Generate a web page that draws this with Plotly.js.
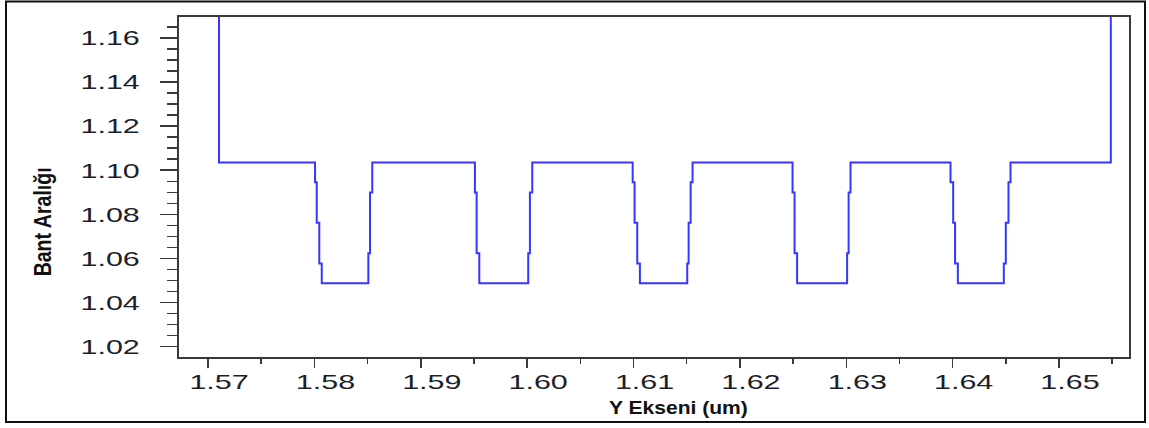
<!DOCTYPE html>
<html>
<head>
<meta charset="utf-8">
<script src="https://cdn.plot.ly/plotly-3.0.1.min.js"></script>
<style>
  html, body { margin: 0; padding: 0; background: #fff; }
  #chart { width: 1149px; height: 428px; }
</style>
</head>
<body>
<div id="chart"></div>
<script>
// Step-function breakpoints (Y Ekseni, um) and the band-gap level that starts at each breakpoint
const xEdges = [
  1.57103, 1.57103,
  1.58006, 1.58022, 1.58046, 1.58069, 1.58507, 1.58523, 1.58544,
  1.59509, 1.59525, 1.59550, 1.60010, 1.60026, 1.60048,
  1.60992, 1.61010, 1.61035, 1.61060, 1.61505, 1.61518, 1.61537, 1.61555,
  1.62495, 1.62514, 1.62538, 1.63008, 1.63022, 1.63040,
  1.63980, 1.64005, 1.64023, 1.64049, 1.64481, 1.64500, 1.64525, 1.64544,
  1.65487
];
const bandGap = [
  1.2000, 1.1035,
  1.0945, 1.0762, 1.0577, 1.0487, 1.0624, 1.0899, 1.1035,
  1.0899, 1.0624, 1.0487, 1.0624, 1.0899, 1.1035,
  1.0945, 1.0762, 1.0577, 1.0487, 1.0577, 1.0762, 1.0945, 1.1035,
  1.0899, 1.0624, 1.0487, 1.0624, 1.0899, 1.1035,
  1.0945, 1.0762, 1.0577, 1.0487, 1.0577, 1.0762, 1.0945, 1.1035,
  1.2000
];
const xTitle = "Y Ekseni (um)";
const yTitle = "Bant Aralığı";

const tickFont = { family: "Liberation Sans, Arial, sans-serif", size: 21, color: "#1e1e2a" };
const axisColor = "#3a3a3a";

const trace = {
  x: xEdges,
  y: bandGap,
  type: "scatter",
  mode: "lines",
  line: { shape: "hv", color: "#3636ff", width: 2 },
  hoverinfo: "skip",
  showlegend: false
};

const layout = {
  width: 1149,
  height: 428,
  margin: { l: 179, r: 20, t: 17, b: 71 },
  paper_bgcolor: "#ffffff",
  plot_bgcolor: "#ffffff",
  showlegend: false,
  xaxis: {
    range: [1.56727, 1.65658],
    tick0: 1.57,
    dtick: 0.01,
    tickformat: ".2f",
    ticks: "outside",
    ticklen: 9,
    tickwidth: 1.5,
    tickcolor: axisColor,
    showline: true,
    linecolor: axisColor,
    linewidth: 2,
    mirror: true,
    showgrid: false,
    zeroline: false,
    tickfont: tickFont,
    ticklabelshift: 11,
    ticklabelstandoff: -4,
    minor: { dtick: 0.005, ticks: "outside", ticklen: 5, tickwidth: 1.5, tickcolor: axisColor, showgrid: false }
  },
  yaxis: {
    range: [1.0153, 1.1695],
    tick0: 1.0,
    dtick: 0.02,
    tickformat: ".2f",
    ticks: "outside",
    ticklen: 17,
    tickwidth: 1.5,
    tickcolor: axisColor,
    showline: true,
    linecolor: axisColor,
    linewidth: 2,
    mirror: true,
    showgrid: false,
    zeroline: false,
    tickfont: tickFont,
    ticklabelstandoff: 16,
    minor: { dtick: 0.005, ticks: "outside", ticklen: 10, tickwidth: 1.5, tickcolor: axisColor, showgrid: false }
  },
  annotations: [
    {
      text: xTitle, xref: "paper", yref: "paper", x: 0.526, y: -0.15,
      xanchor: "center", yanchor: "middle", showarrow: false,
      font: { family: "Liberation Sans, Arial, sans-serif", size: 18, color: "#111", weight: "bold" }
    },
    {
      text: yTitle, xref: "paper", yref: "paper", x: -0.1432, y: 0.397,
      xanchor: "center", yanchor: "middle", showarrow: false, textangle: -90,
      font: { family: "Liberation Sans, Arial, sans-serif", size: 23, color: "#111", weight: "bold" }
    }
  ],
  shapes: [
    {
      type: "rect", xref: "paper", yref: "paper",
      x0: -0.1821, x1: 1.01684, y0: -0.19118, y1: 1.04559,
      line: { color: "#111", width: 2 }, fillcolor: "rgba(0,0,0,0)", layer: "above"
    }
  ]
};

Plotly.newPlot("chart", [trace], layout, { staticPlot: true, displayModeBar: false }).then(function (gd) {
  // widen tick labels the way the reference rendering stretches them
  gd.querySelectorAll(".xtick text, .ytick text").forEach(function (t) {
    var w = t.getComputedTextLength();
    t.setAttribute("lengthAdjust", "spacingAndGlyphs");
    t.setAttribute("textLength", (w * 1.45).toFixed(1));
  });
  gd.querySelectorAll(".annotation-text").forEach(function (t) {
    var w = t.getComputedTextLength();
    t.setAttribute("lengthAdjust", "spacingAndGlyphs");
    if (t.textContent === xTitle) {
      t.setAttribute("textLength", (w * 1.17).toFixed(1));
    } else if (t.textContent === yTitle) {
      t.setAttribute("textLength", "109");
    }
  });
});
</script>
</body>
</html>
